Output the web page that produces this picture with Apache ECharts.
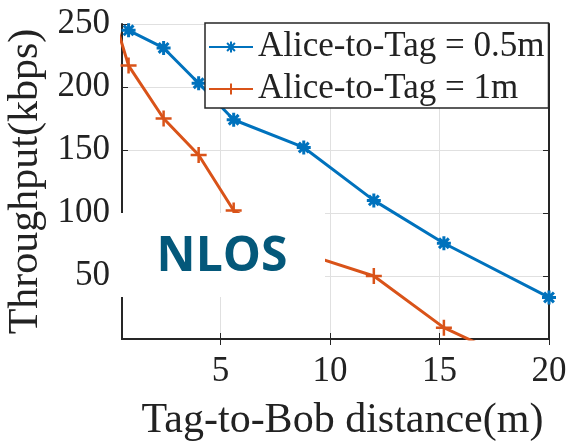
<!DOCTYPE html>
<html>
<head>
<meta charset="utf-8">
<script src="https://cdn.jsdelivr.net/npm/echarts@6/dist/echarts.min.js"></script>
<style>
  html, body { margin: 0; padding: 0; background: #fff; }
  #main { width: 572px; height: 442px; }
</style>
</head>
<body>
<div id="main"></div>
<script>
// values
var xBlue = [0.8, 2.4, 4, 5.6, 8.8, 12, 15.2, 20];
var yBlue = [245, 231, 203, 174, 152, 110, 76, 33];
var xOrange = [0, 0.8, 2.4, 4, 5.6, 8.8, 12, 15.2, 20];
var yOrange = [263, 217, 175, 146, 102, 68, 50, 9, -30];
var xTicks = [5, 10, 15, 20];
var seriesNames = ['Alice-to-Tag = 0.5m', 'Alice-to-Tag = 1m'];

var serif = '"Liberation Serif", "DejaVu Serif", serif';
var ink = '#222';
var asterisk = 'path://M0,10L20,10M10,0L10,20M3,3L17,17M17,3L3,17';
var plus = 'path://M0,10L20,10M10,0L10,20';

function pairs(xs, ys) {
    return xs.map(function (x, i) { return [x, ys[i]]; });
}

var myChart = echarts.init(document.getElementById('main'));

myChart.setOption({
    animation: false,
    grid: { left: 122, right: 23, top: 24, bottom: 103, outerBoundsMode: 'none', containLabel: false },
    legend: {
        left: 205,
        top: 23,
        orient: 'vertical',
        selectedMode: false,
        backgroundColor: '#fff',
        borderColor: '#262626',
        borderWidth: 1.5,
        padding: [6, 4, 1, 3],
        itemWidth: 44,
        itemHeight: 14,
        itemGap: 6,
        textStyle: { fontFamily: serif, fontSize: 35, color: ink, lineHeight: 36 },
        data: seriesNames,
        z: 10
    },
    xAxis: [
        {
            type: 'value',
            min: 0.5,
            max: 20,
            name: 'Tag-to-Bob distance(m)',
            nameLocation: 'middle',
            nameGap: 61,
            nameTextStyle: { fontFamily: serif, fontSize: 42, color: ink, padding: [0, 0, 0, 14] },
            axisLine: { lineStyle: { color: '#262626', width: 2 } },
            axisTick: { inside: true, length: 6, customValues: xTicks, lineStyle: { color: '#262626' } },
            axisLabel: { customValues: xTicks, fontFamily: serif, fontSize: 35, color: ink, margin: 15 },
            splitLine: { show: true, lineStyle: { color: '#e0e0e0', width: 1 } }
        },
        {
            type: 'value',
            position: 'top',
            min: 0.5,
            max: 20,
            axisLine: { lineStyle: { color: '#262626', width: 2 } },
            axisTick: { inside: true, length: 6, customValues: xTicks, lineStyle: { color: '#262626' } },
            axisLabel: { show: false },
            splitLine: { show: false }
        }
    ],
    yAxis: [
        {
            type: 'value',
            min: 0,
            max: 250,
            interval: 50,
            name: 'Throughput(kbps)',
            nameLocation: 'middle',
            nameGap: 68,
            nameTextStyle: { fontFamily: serif, fontSize: 42, color: ink },
            axisLine: { show: true, lineStyle: { color: '#262626', width: 2 } },
            axisTick: { show: true, inside: true, length: 6, lineStyle: { color: '#262626' } },
            axisLabel: { showMinLabel: false, fontFamily: serif, fontSize: 35, color: ink, margin: 12 },
            splitLine: { show: true, lineStyle: { color: '#e0e0e0', width: 1 } }
        },
        {
            type: 'value',
            position: 'right',
            min: 0,
            max: 250,
            interval: 50,
            axisLine: { show: true, lineStyle: { color: '#262626', width: 2 } },
            axisTick: { show: true, inside: true, length: 6, lineStyle: { color: '#262626' } },
            axisLabel: { show: false },
            splitLine: { show: false }
        }
    ],
    series: [
        {
            name: seriesNames[0],
            type: 'line',
            data: pairs(xBlue, yBlue),
            symbol: asterisk,
            symbolSize: 14,
            showAllSymbol: true,
            lineStyle: { color: '#0072BD', width: 3 },
            itemStyle: { color: '#0072BD', borderColor: '#0072BD', borderWidth: 3 }
        },
        {
            name: seriesNames[1],
            type: 'line',
            data: pairs(xOrange, yOrange),
            symbol: plus,
            symbolSize: 16,
            showAllSymbol: true,
            lineStyle: { color: '#D95319', width: 3 },
            itemStyle: { color: '#D95319', borderColor: '#D95319', borderWidth: 2.5 }
        }
    ],
    graphic: [
        {
            type: 'rect',
            z: 100,
            shape: { x: 118, y: 213, width: 207, height: 84 },
            style: { fill: '#fff' }
        },
        {
            type: 'text',
            z: 101,
            x: 222,
            y: 257,
            style: {
                text: 'NLOS',
                fontFamily: '"Open Sans", "Noto Sans", sans-serif',
                fontWeight: 'bold',
                fontSize: 48,
                fill: '#04587a',
                align: 'center',
                verticalAlign: 'middle'
            }
        }
    ]
});
</script>
</body>
</html>
